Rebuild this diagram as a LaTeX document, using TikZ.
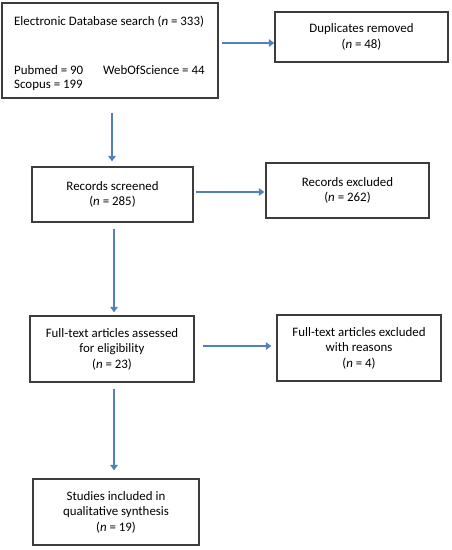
\documentclass[tikz,border=0pt]{standalone}
\usepackage{fontspec}
\setmainfont{Carlito}
\usetikzlibrary{arrows.meta,calc}
\definecolor{arrowblue}{RGB}{79,129,189}
\definecolor{boxgray}{RGB}{60,60,60}
\tikzset{
  box/.style={draw=boxgray,line width=1.3pt,rectangle,inner sep=0pt,align=center,font=\fontsize{12.9}{15.5}\selectfont},
  txt/.style={inner sep=0pt,anchor=west,font=\fontsize{12.9}{15.5}\selectfont},
  arr/.style={draw=arrowblue,line width=2.6pt,-{Triangle[length=5.5pt,width=7.5pt]}}
}
\begin{document}
\begin{tikzpicture}[x=1pt,y=-1pt]
\useasboundingbox (0,0) rectangle (452,550);
% boxes
\node[box,minimum width=216pt,minimum height=95pt] (b1) at (110,50.5) {};
\node[txt] (t1) at (14,22) {Electronic Database search (\textit{n} = 333)};
\node[txt] (t2) at (14,70) {Pubmed = 90};
\node[txt] (t3) at (103,70) {WebOfScience = 44};
\node[txt] (t4) at (14,85.5) {Scopus = 199};
\node[box,minimum width=173pt,minimum height=50pt] (b2) at (361.5,37) {Duplicates removed\\(\textit{n} = 48)};
\node[box,minimum width=161pt,minimum height=55pt] (b3) at (112.5,194.5) {Records screened\\(\textit{n} = 285)};
\node[box,minimum width=163pt,minimum height=55pt] (b4) at (347.5,190.5) {Records excluded\\(\textit{n} = 262)};
\node[box,minimum width=164pt,minimum height=66pt] (b5) at (112,349) {Full-text articles assessed\\for eligibility\\(\textit{n} = 23)};
\node[box,minimum width=164pt,minimum height=66pt] (b6) at (359,348) {Full-text articles excluded\\with reasons\\(\textit{n} = 4)};
\node[box,minimum width=166pt,minimum height=66pt] (b7) at (116,512) {Studies included in\\qualitative synthesis\\(\textit{n} = 19)};
% connectors
\coordinate (h1) at ([xshift=3pt,yshift=7.5pt]b1.east);
\draw[arr] (h1) -- (h1 -| b2.west);
\coordinate (v1) at ([xshift=2pt,yshift=-14pt]b1.south);
\draw[arr,shorten >=5pt] (v1) -- (v1 |- b3.north);
\coordinate (h2) at ([xshift=2pt,yshift=2.5pt]b3.east);
\draw[arr,shorten >=1pt] (h2) -- (h2 -| b4.west);
\coordinate (v2) at ([xshift=1.5pt,yshift=-6pt]b3.south);
\draw[arr,shorten >=3pt] (v2) -- (v2 |- b5.north);
\coordinate (h3) at ([xshift=8pt,yshift=3pt]b5.east);
\draw[arr,shorten >=5pt] (h3) -- (h3 -| b6.west);
\coordinate (v3) at ([xshift=2pt,yshift=-6pt]b5.south);
\draw[arr,shorten >=8pt] (v3) -- (v3 |- b7.north);
\end{tikzpicture}
\end{document}
